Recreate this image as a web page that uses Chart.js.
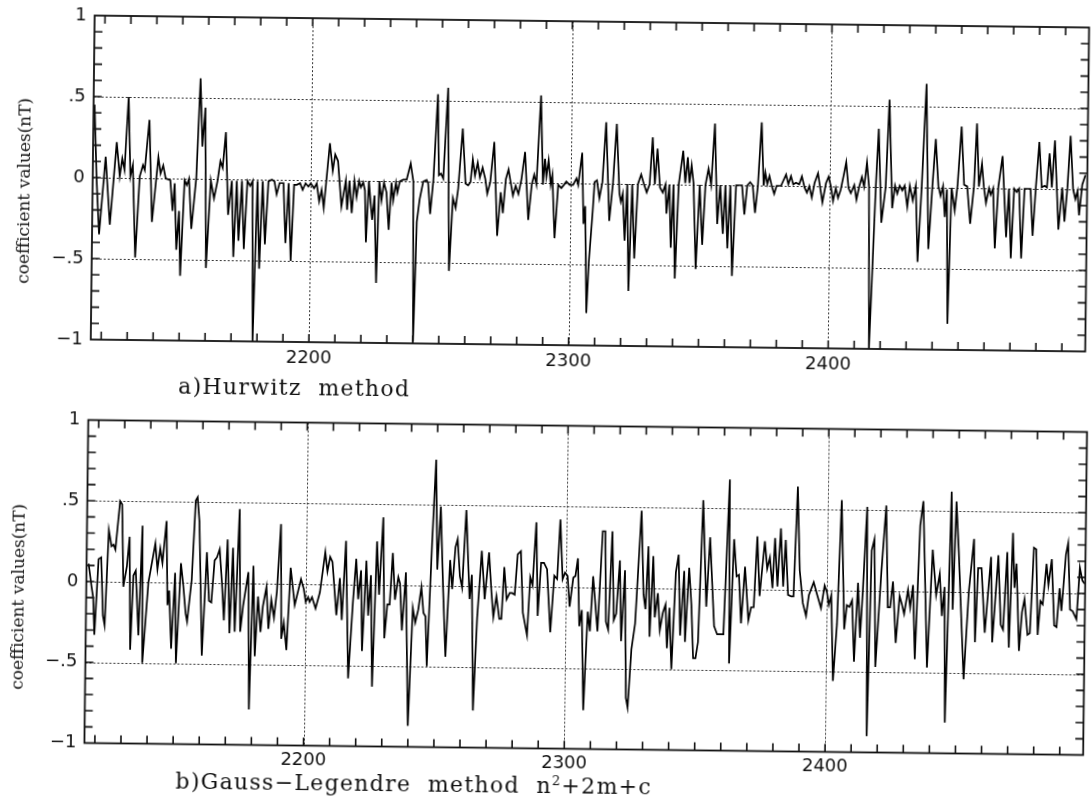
<!DOCTYPE html>
<html>
<head>
<meta charset="utf-8">
<script src="https://cdn.jsdelivr.net/npm/chart.js@4.4.1/dist/chart.umd.min.js"></script>
<style>
  html, body { margin: 0; padding: 0; background: #fff; overflow: hidden; }
  #page { position: absolute; left: 0; top: 0; width: 1091px; height: 811px; transform: rotate(0.69deg); }
  canvas { position: absolute; left: 0; }
  .caption { position: absolute; font-family: "DejaVu Serif", serif; font-size: 22px; line-height: 22px;
             letter-spacing: 1.3px; color: #111; white-space: pre; }
  .ytitle { position: absolute; width: 260px; height: 20px; line-height: 20px; text-align: center;
            font-family: "DejaVu Serif", serif; font-size: 17px; color: #111; transform: rotate(-90deg); white-space: pre; }
</style>
</head>
<body>
<div id="page">
  <canvas id="chartA" width="1091" height="380" style="top:0"></canvas>
  <canvas id="chartB" width="1091" height="390" style="top:400px"></canvas>
  <div class="ytitle" style="left:-109px; top:187px">coefficient values(nT)</div>
  <div class="ytitle" style="left:-110px; top:593px">coefficient values(nT)</div>
  <div class="caption" style="left:178px; top:380px">a)Hurwitz  method</div>
  <div class="caption" style="left:180px; top:770px">b)Gauss−Legendre  method  n<sup style="font-size:13px">2</sup>+2m+c</div>
</div>
<script>
// axis settings
const xMin = 2116;
const xMax = 2499;
const xTickLabels = [2200, 2300, 2400];
const yTickValues = [-1, -0.5, 0, 0.5, 1];
const gridX = [2200, 2300, 2400];
const gridY = [-0.5, 0, 0.5];

// a) Hurwitz method
const hurwitzX = [
  2116.4, 2117.5, 2118.7, 2120.9, 2122.8, 2125.1, 2126.4, 2127.3, 2128.2, 2129.5, 2130.5, 2131.4, 2132.7, 2134.1,
  2135.3, 2136.0, 2137.6, 2139.0, 2141.2, 2142.1, 2143.1, 2144.1, 2145.9, 2146.9, 2147.6, 2148.5, 2149.4, 2150.1,
  2151.4, 2152.3, 2153.1, 2154.2, 2155.9, 2157.1, 2158.1, 2159.1, 2160.0, 2161.5, 2162.8, 2164.1, 2165.1, 2166.0,
  2167.1, 2168.3, 2169.6, 2170.5, 2171.5, 2172.4, 2173.5, 2174.5, 2175.6, 2176.7, 2177.6, 2178.3, 2179.5, 2180.5,
  2181.5, 2182.6, 2183.7, 2185.0, 2186.0, 2186.9, 2188.0, 2189.5, 2190.5, 2191.5, 2192.6, 2193.6, 2194.6, 2195.9,
  2196.9, 2198.0, 2199.1, 2200.0, 2201.3, 2202.3, 2203.3, 2204.2, 2205.1, 2207.2, 2208.4, 2209.3, 2210.4, 2211.9,
  2213.5, 2214.1, 2214.9, 2215.9, 2216.8, 2217.7, 2218.6, 2219.3, 2220.2, 2220.9, 2221.5, 2222.4, 2223.1, 2223.8,
  2224.6, 2225.6, 2226.4, 2227.3, 2228.2, 2229.2, 2230.2, 2231.1, 2231.8, 2232.8, 2233.4, 2234.3, 2235.6, 2236.9,
  2238.4, 2239.5, 2240.1, 2241.0, 2242.0, 2243.3, 2244.6, 2245.2, 2246.1, 2247.2, 2248.6, 2249.3, 2250.1, 2251.0,
  2252.5, 2253.6, 2254.8, 2255.9, 2256.8, 2258.3, 2259.6, 2260.6, 2261.5, 2262.3, 2263.2, 2264.2, 2265.1, 2266.1,
  2267.2, 2268.0, 2269.1, 2270.5, 2272.0, 2273.2, 2274.1, 2275.1, 2276.1, 2277.1, 2277.9, 2278.9, 2280.0, 2281.1,
  2282.4, 2283.9, 2285.1, 2286.0, 2286.9, 2288.3, 2289.4, 2290.1, 2290.7, 2291.5, 2292.4, 2293.0, 2294.1, 2295.3,
  2296.5, 2297.5, 2298.4, 2299.7, 2301.0, 2302.3, 2303.0, 2304.4, 2305.2, 2305.8, 2306.7, 2307.4,
  2308.7, 2309.3, 2310.2, 2311.2, 2312.3, 2313.5, 2315.1, 2316.4, 2317.6, 2318.9, 2319.5, 2320.2, 2321.1, 2321.9,
  2322.8, 2323.8, 2324.9, 2326.0, 2327.2, 2328.3, 2329.4, 2330.5, 2331.5, 2332.5, 2333.4, 2334.5, 2335.6, 2336.6,
  2337.1, 2338.1, 2338.9, 2339.7, 2340.6, 2341.7, 2343.3, 2344.2, 2345.1, 2345.8, 2346.6, 2347.4, 2348.6, 2349.8,
  2351.0, 2352.0, 2353.1, 2354.2, 2355.4, 2356.7, 2357.7, 2358.9, 2359.7, 2360.7, 2361.6, 2362.6, 2363.8, 2365.0,
  2366.1, 2367.1, 2368.1, 2369.2, 2370.2, 2371.2, 2372.2, 2373.4, 2374.4, 2375.0, 2375.8, 2376.6, 2377.5, 2378.5,
  2379.4, 2381.1, 2383.0, 2383.9, 2384.9, 2385.8, 2386.8, 2388.1, 2389.1, 2390.2, 2391.1, 2392.0, 2393.0, 2394.0,
  2395.3, 2396.2, 2397.1, 2398.4, 2399.4, 2400.3, 2401.2, 2402.2, 2403.1, 2404.1, 2405.2,
  2406.1, 2407.1, 2408.0, 2409.3, 2410.2, 2411.2, 2412.2, 2413.1, 2414.1, 2415.0, 2415.7, 2416.7, 2417.6, 2418.5,
  2419.9, 2421.4, 2422.5, 2424.0, 2425.0, 2425.9, 2426.8, 2427.8, 2428.7, 2429.8, 2430.7, 2431.9, 2433.0, 2434.0,
  2435.3, 2436.7, 2438.1, 2439.4, 2440.5, 2441.7, 2442.6, 2443.5, 2444.3, 2445.0, 2445.8, 2446.8, 2448.1, 2449.1,
  2450.4, 2451.6, 2452.8, 2454.1, 2455.4, 2456.3, 2457.3, 2458.4, 2459.2, 2460.1, 2461.2, 2461.9, 2462.8, 2463.7,
  2464.8, 2466.3, 2468.0, 2468.9, 2469.9, 2470.9, 2471.9, 2472.8, 2473.9, 2474.9, 2477.2, 2478.2, 2479.2, 2480.4,
  2481.5, 2482.6, 2483.5, 2484.4, 2485.4, 2486.4, 2488.1, 2489.4, 2490.4, 2491.4, 2492.4, 2493.6, 2494.5, 2495.3,
  2496.0, 2497.1, 2498.3
];
const hurwitzY = [
  0.45, -0.01, -0.35, 0.13, -0.29, 0.22, 0.01, 0.12, 0.05, 0.5, 0.01, 0.08, -0.49, 0.01,
  0.08, 0.05, 0.36, -0.27, 0.13, 0.03, 0.08, 0, -0.01, -0.2, -0.03, -0.44, -0.2, -0.6,
  -0.01, -0.04, 0, -0.31, 0.01, 0.62, 0.2, 0.44, -0.55, -0.01, -0.12, -0.01, 0.11, 0.07,
  0.29, -0.22, -0.01, -0.48, -0.01, -0.38, -0.01, -0.43, -0.01, -0.04, -0.01, -1.0, -0.01, -0.55,
  -0.01, -0.4, -0.01, 0, -0.01, -0.09, -0.02, -0.02, -0.39, -0.02, -0.5, -0.03, -0.03, -0.02,
  -0.06, -0.02, -0.04, -0.02, -0.05, -0.02, -0.13, -0.06, -0.17, 0.23, 0.06, 0.16, 0.12, -0.16,
  0, -0.18, 0, -0.2, 0, -0.1, 0, -0.04, -0.01, -0.06, -0.38, 0, -0.13, -0.24,
  -0.09, -0.63, 0, -0.12, -0.01, -0.07, -0.3, -0.01, -0.12, -0.01, -0.07, 0, 0.01, 0.01,
  0.11, 0, -0.99, -0.25, -0.11, 0, 0.01, -0.01, -0.2, 0.01, 0.54, 0.04, 0.05, 0.02,
  0.58, -0.55, -0.1, -0.16, -0.04, 0.33, -0.01, -0.02, 0, 0.14, 0.04, 0.12, 0.03, 0.09,
  0.02, -0.07, 0, 0.25, -0.33, -0.06, -0.19, 0.02, 0.08, -0.01, -0.08, -0.02, -0.07, 0.02,
  0.19, -0.23, -0.01, 0.05, -0.01, 0.54, -0.01, 0.15, 0.04, 0.14, -0.01, 0.05, -0.34, -0.01,
  -0.03, -0.01, 0.01, -0.01, -0.01, 0.03, -0.01, 0.19, -0.25, -0.14, -0.8, -0.49,
  -0.17, 0.01, 0.02, -0.09, 0.01, 0.38, -0.23, 0.01, 0.37, -0.06, -0.11, -0.06, -0.35, 0,
  -0.66, 0, -0.46, 0, 0.06, 0, -0.05, 0, 0.29, 0, 0.22, -0.02, -0.05, 0,
  -0.18, 0, -0.39, 0, -0.58, 0, 0.21, 0.01, 0.17, 0.01, 0.12, 0.01, -0.52, 0,
  -0.37, 0, 0.1, 0, 0.38, -0.24, 0, -0.3, 0, -0.39, 0, -0.56, 0, 0,
  0, -0.18, 0, 0.02, 0, -0.17, 0, 0.39, 0, 0.08, 0.01, 0.06, 0, -0.05,
  0, 0, 0.07, 0.01, 0.06, 0.01, 0.02, 0.01, 0.06, -0.01, -0.04, 0, -0.07, 0.02,
  0.08, -0.01, -0.1, 0.02, 0.06, 0, -0.09, -0.01, -0.07, -0.02, 0.07,
  0.15, -0.01, -0.04, 0.01, -0.08, 0, 0.06, 0, 0.15, 0, -1.0, -0.48, 0, 0.36,
  -0.22, 0, 0.54, -0.13, 0.01, -0.04, 0.01, -0.02, 0.01, -0.12, 0.01, -0.08, 0.01, -0.46,
  0.01, 0.64, -0.38, 0.01, 0.3, 0.01, -0.05, 0.01, -0.18, -0.01, -0.84, 0, -0.14, 0.02,
  0.38, 0.02, 0.01, -0.22, 0.01, 0.4, 0.01, 0.15, 0.01, -0.09, 0, -0.04, 0, -0.37,
  0.01, 0.2, -0.3, 0, -0.43, 0, -0.02, 0, -0.43, 0, 0, -0.29, 0, 0.29,
  0.01, 0.02, 0.01, 0.22, 0.01, 0.3, -0.25, 0.01, -0.2, 0.01, 0.33, 0, -0.06, -0.01,
  -0.16, 0.03, 0.09
];

// b) Gauss-Legendre method
const gaussX = [
  2116.8, 2118.0, 2118.7, 2119.3, 2120.6, 2121.6, 2122.5, 2123.2, 2124.4, 2125.5, 2126.3, 2127.0, 2128.6, 2129.4,
  2130.2, 2131.5, 2132.4, 2133.1, 2134.0, 2134.9, 2136.2, 2137.3, 2137.8, 2139.8, 2142.3, 2143.2, 2144.2, 2145.1,
  2146.5, 2147.2, 2147.8, 2148.8, 2150.0, 2150.7, 2152.2, 2153.2, 2154.2, 2154.8, 2156.4, 2157.6, 2158.3, 2159.1,
  2159.8, 2160.6, 2162.1, 2163.1, 2164.0, 2165.1, 2166.0, 2167.0, 2168.0, 2168.9, 2170.0, 2171.1, 2172.1, 2173.1,
  2174.5, 2175.2, 2176.2, 2178.1, 2178.9, 2180.0, 2180.9, 2181.9, 2183.0, 2183.8, 2185.1, 2186.0, 2187.0, 2188.1,
  2189.1, 2190.4, 2191.0, 2191.9, 2193.0, 2194.3, 2196.0, 2198.3, 2199.4, 2200.2, 2201.1, 2201.7, 2202.6, 2204.0,
  2205.6, 2207.5, 2208.4, 2209.4, 2210.3, 2212.0, 2213.2, 2214.1,
  2215.4, 2216.8, 2218.3, 2219.4, 2220.3, 2221.3, 2222.0, 2223.3, 2224.2, 2225.1, 2226.0, 2227.3, 2228.3, 2229.6,
  2230.5, 2231.5, 2232.4, 2233.4, 2234.4, 2235.6, 2236.3, 2237.2, 2238.5, 2239.9, 2241.3, 2242.3, 2243.4, 2244.5,
  2245.4, 2246.2, 2246.9, 2248.4, 2249.6, 2250.5, 2251.6, 2252.8, 2254.0, 2255.4, 2256.3, 2257.4, 2258.2, 2259.2,
  2260.1, 2261.4, 2263.0, 2263.8, 2264.8, 2266.0, 2267.5, 2268.8, 2270.3, 2271.4, 2272.2, 2273.3, 2274.5, 2275.3,
  2276.2, 2277.2, 2278.4, 2279.3, 2280.3, 2281.3, 2282.5, 2283.5, 2285.2, 2286.2, 2287.1, 2288.3, 2289.2, 2290.3,
  2291.4, 2292.6, 2294.1, 2295.4, 2296.5, 2297.5, 2298.6, 2299.5, 2300.5, 2301.4, 2302.7, 2303.5, 2304.4, 2305.2,
  2306.1, 2307.1, 2308.4, 2309.3, 2310.3,
  2312.2, 2313.8, 2314.8, 2315.4, 2316.3, 2317.5, 2318.4, 2319.3, 2320.5, 2321.3, 2322.5, 2323.4, 2324.1, 2325.3,
  2326.6, 2328.6, 2329.7, 2330.5, 2331.4, 2332.2, 2333.3, 2334.1, 2335.2, 2336.1, 2337.2, 2338.2, 2338.9, 2339.7,
  2340.7, 2342.0, 2343.0, 2343.9, 2345.2, 2345.8, 2347.1, 2348.1, 2349.0, 2349.9, 2350.8, 2352.2, 2353.8, 2355.0,
  2356.9, 2358.1, 2360.5, 2362.3, 2362.8, 2364.2, 2365.3, 2366.2, 2367.2, 2368.5, 2370.0, 2371.0, 2372.0, 2373.1,
  2374.2, 2376.0, 2377.0, 2378.0, 2379.1, 2379.9, 2381.0, 2382.1, 2383.2, 2384.0, 2385.1, 2386.3, 2387.2, 2388.4,
  2389.5, 2390.8, 2392.1, 2393.1, 2394.9, 2396.3, 2397.8, 2399.1, 2400.0, 2400.8, 2401.7, 2402.7, 2404.0, 2405.3,
  2406.8, 2407.7, 2408.7, 2409.7, 2410.7, 2411.9, 2412.9, 2413.8, 2415.1, 2415.9, 2417.0, 2418.0, 2418.9, 2420.8,
  2422.4, 2423.4, 2424.3, 2425.3, 2426.6, 2427.9, 2428.8, 2429.7, 2431.1, 2432.0, 2433.0, 2434.0, 2435.5, 2436.6,
  2438.7, 2440.4, 2441.9, 2443.2, 2444.2, 2445.1, 2445.8, 2447.4, 2448.3, 2449.3, 2450.4, 2451.3, 2452.8, 2454.4,
  2456.2, 2457.0, 2457.9, 2459.2, 2460.7, 2462.8, 2463.6, 2465.6, 2466.8, 2467.7, 2469.0, 2470.0, 2471.1, 2471.9,
  2472.6, 2473.9, 2474.9, 2475.8, 2477.1, 2478.0, 2479.2, 2480.1, 2481.0, 2481.9, 2482.8, 2484.1, 2484.9, 2486.1,
  2487.3, 2488.2, 2489.2, 2490.0, 2491.5, 2492.3, 2493.3, 2494.3, 2495.8, 2496.9, 2497.9, 2498.8
];
const gaussY = [
  0.11, -0.03, -0.1, -0.33, 0.14, 0.15, -0.21, -0.27, 0.32, 0.22, 0.23, 0.2, 0.5, 0.48,
  -0.03, 0.1, 0.28, -0.42, 0.04, 0.07, -0.33, 0.35, -0.5, 0, 0.24, 0.08, 0.21, 0.12,
  0.38, -0.14, -0.05, -0.41, 0.06, -0.5, 0.12, -0.02, -0.19, -0.24, 0.02, 0.51, 0.53, 0.38,
  0, -0.45, 0.19, -0.11, -0.12, 0.14, 0.16, 0.21, 0, -0.23, 0.27, -0.31, 0.22, -0.3,
  0.46, -0.3, -0.14, 0.07, -0.78, 0.11, -0.45, -0.08, -0.3, -0.14, -0.02, -0.28, -0.1, -0.21,
  -0.05, 0.37, -0.34, -0.24, -0.41, 0.1, -0.13, 0.03, -0.03, -0.11, -0.08, -0.11, -0.08, -0.15,
  -0.05, 0.2, 0.08, 0.17, 0.14, -0.19, 0.04, -0.22,
  0.27, -0.58, -0.11, 0.16, -0.09, 0.09, -0.41, 0.15, -0.19, 0.06, -0.63, 0.27, -0.06, 0.42,
  -0.33, -0.12, -0.12, 0.2, -0.09, 0.05, 0.01, -0.28, 0.08, -0.87, -0.14, -0.23, -0.15, -0.01,
  -0.17, -0.19, -0.5, 0.26, 0.78, 0.1, 0.49, -0.01, -0.44, 0.16, -0.02, 0.24, 0.29, 0.06,
  -0.01, 0.47, -0.08, 0.07, -0.77, -0.2, 0.22, -0.08, 0.21, -0.04, -0.19, -0.06, -0.2, -0.2,
  0.12, -0.08, -0.04, -0.04, -0.05, 0.2, 0.22, -0.16, -0.3, 0.06, 0.01, 0.4, -0.18, 0.15,
  0.15, 0.11, -0.28, 0.07, 0.05, 0.42, 0.05, 0.09, 0.07, -0.12, 0.06, 0.07, 0.18, -0.24,
  -0.14, -0.76, -0.15, -0.27, 0.07,
  -0.27, 0.35, 0.35, -0.21, -0.26, 0.35, -0.2, -0.16, 0.17, -0.33, 0.11, -0.68, -0.74, -0.38,
  -0.22, 0.48, -0.04, -0.13, 0.26, -0.3, 0.2, -0.18, -0.03, -0.26, -0.15, -0.1, -0.37, -0.12,
  -0.5, 0.1, 0.21, -0.29, 0.11, -0.33, 0.13, -0.1, -0.43, -0.43, -0.33, 0.55, -0.11, 0.32,
  -0.23, -0.28, -0.28, 0.68, -0.46, 0.31, 0.08, 0.09, -0.21, 0.14, -0.19, -0.11, -0.11, 0.33,
  -0.04, 0.3, 0.13, 0.2, 0.01, 0.32, 0.02, 0.38, 0.02, 0.31, -0.03, -0.04, -0.04, 0.64,
  0.12, -0.08, -0.16, -0.03, 0.05, -0.03, -0.11, 0.03, -0.01, -0.09, -0.03, -0.56, -0.21, 0.56,
  -0.24, -0.09, -0.1, -0.06, -0.44, 0.05, -0.29, 0.01, 0.52, -0.9, 0.25, 0.32, -0.47, 0.12,
  0.53, -0.1, -0.1, 0.06, -0.32, -0.03, -0.08, -0.14, 0.01, -0.1, 0.04, -0.42, 0.41, 0.56,
  -0.47, 0.26, -0.02, 0.11, -0.15, 0.03, -0.81, 0.62, -0.11, 0.56, 0.25, -0.05, -0.54, 0,
  0.33, -0.31, 0.15, 0.15, -0.25, 0.22, -0.31, 0.23, -0.2, -0.23, 0.25, -0.34, 0.37, 0.03,
  0.18, -0.36, -0.12, -0.04, -0.26, -0.25, 0.28, 0.27, -0.26, -0.05, -0.07, 0.18, 0.05, 0.21,
  -0.2, -0.21, 0.03, -0.11, 0.24, 0.31, -0.1, -0.11, -0.16, 0.16, 0.08, 0.06
];

function fmtY(v) {
  if (v === 0) return '0';
  const s = String(Math.abs(v)).replace(/^0\./, '.');
  return (v < 0 ? '\u2212' : '') + s;
}

// dotted grid, solid frame and inward tick marks
const frameTicks = {
  id: 'frameTicks',
  beforeDatasetsDraw(chart) {
    const { ctx, chartArea: a, scales: { x, y } } = chart;
    ctx.save();
    ctx.strokeStyle = '#333';
    ctx.lineWidth = 1;
    ctx.setLineDash([2, 2]);
    ctx.beginPath();
    gridX.forEach(v => {
      const px = Math.round(x.getPixelForValue(v)) + 0.5;
      ctx.moveTo(px, a.top); ctx.lineTo(px, a.bottom);
    });
    gridY.forEach(v => {
      const py = Math.round(y.getPixelForValue(v)) + 0.5;
      ctx.moveTo(a.left, py); ctx.lineTo(a.right, py);
    });
    ctx.stroke();
    ctx.restore();
  },
  afterDatasetsDraw(chart) {
    const { ctx, chartArea: a, scales: { x, y } } = chart;
    const len = 8;
    ctx.save();
    ctx.strokeStyle = '#111';
    ctx.lineWidth = 1.6;
    ctx.beginPath();
    for (let v = Math.ceil(xMin / 10) * 10; v < xMax; v += 10) {
      const px = x.getPixelForValue(v);
      ctx.moveTo(px, a.top); ctx.lineTo(px, a.top + len);
      ctx.moveTo(px, a.bottom); ctx.lineTo(px, a.bottom - len);
    }
    for (let i = -9; i <= 9; i++) {
      const py = y.getPixelForValue(i / 10);
      ctx.moveTo(a.left, py); ctx.lineTo(a.left + len, py);
      ctx.moveTo(a.right, py); ctx.lineTo(a.right - len, py);
    }
    ctx.stroke();
    ctx.lineWidth = 1.8;
    ctx.strokeRect(a.left, a.top, a.right - a.left, a.bottom - a.top);
    ctx.restore();
  }
};

function makeChart(id, xs, ys, pad, yWidth, xHeight, xPad) {
  return new Chart(document.getElementById(id), {
    type: 'line',
    data: {
      datasets: [{
        data: xs.map((v, i) => ({ x: v, y: ys[i] })),
        borderColor: '#000',
        borderWidth: 1.7,
        pointRadius: 0,
        tension: 0,
        fill: false
      }]
    },
    options: {
      responsive: false,
      animation: false,
      events: [],
      layout: { padding: pad },
      plugins: { legend: { display: false }, tooltip: { enabled: false } },
      scales: {
        x: {
          type: 'linear',
          min: xMin,
          max: xMax,
          grid: { display: false, drawTicks: false },
          border: { display: false },
          afterBuildTicks: s => { s.ticks = xTickLabels.map(v => ({ value: v })); },
          afterFit: s => { s.height = xHeight; },
          ticks: {
            color: '#111',
            font: { family: 'DejaVu Sans', size: 18 },
            padding: xPad,
            maxRotation: 0,
            autoSkip: false,
            callback: v => String(v)
          }
        },
        y: {
          min: -1,
          max: 1,
          grid: { display: false, drawTicks: false },
          border: { display: false },
          afterBuildTicks: s => { s.ticks = yTickValues.map(v => ({ value: v })); },
          afterFit: s => { s.width = yWidth; },
          ticks: {
            color: '#111',
            font: { family: 'DejaVu Sans', size: 18 },
            padding: 8,
            callback: v => fmtY(v)
          }
        }
      }
    },
    plugins: [frameTicks]
  });
}

makeChart('chartA', hurwitzX, hurwitzY, { top: 21, right: 6.5, left: 0, bottom: 0 }, 90, 35, 6);
makeChart('chartB', gaussX, gaussY, { top: 25.5, right: 3.7, left: 0, bottom: 0 }, 88.5, 41.5, 4);
</script>
</body>
</html>
